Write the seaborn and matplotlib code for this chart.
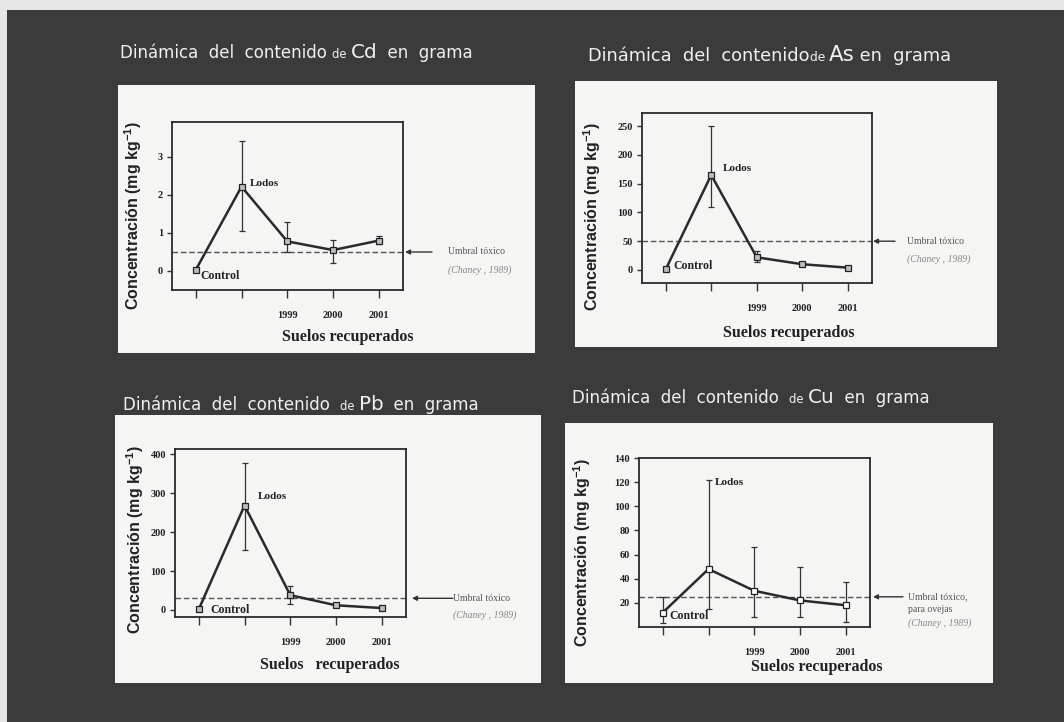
import matplotlib
matplotlib.use("Agg")
import matplotlib.pyplot as plt
import matplotlib.transforms as mtransforms
from matplotlib.patches import Rectangle
import seaborn as sns
import pandas as pd

# ---- data -------------------------------------------------------------
categories = ["Control", "Lodos", "1999", "2000", "2001"]
tick_labels = ["", "", "1999", "2000", "2001"]

cd_mean = [0.03, 2.22, 0.78, 0.55, 0.80]
cd_low = [0.03, 1.05, 0.50, 0.22, 0.70]
cd_high = [0.03, 3.42, 1.28, 0.82, 0.92]

as_mean = [1, 165, 22, 10, 4]
as_low = [1, 110, 14, 8, 3]
as_high = [1, 250, 33, 12, 5]

pb_mean = [2, 268, 38, 12, 5]
pb_low = [2, 153, 15, 8, 4]
pb_high = [2, 378, 62, 18, 6]

cu_mean = [12, 48, 30, 22, 18]
cu_low = [3, 15, 8, 8, 4]
cu_high = [25, 122, 66, 50, 37]

thresholds = {"Cd": 0.5, "As": 50, "Pb": 30, "Cu": 25}
threshold_text = {
    "Cd": ["Umbral tóxico", "(Chaney , 1989)"],
    "As": ["Umbral tóxico", "(Chaney , 1989)"],
    "Pb": ["Umbral tóxico", "(Chaney , 1989)"],
    "Cu": ["Umbral tóxico,", "para ovejas", "(Chaney , 1989)"],
}

# ---- figure -----------------------------------------------------------
sns.set_theme(style="white")
plt.rcParams["font.family"] = ["DejaVu Sans"]
plt.rcParams["mathtext.fontset"] = "custom"
plt.rcParams["mathtext.rm"] = "Liberation Sans:bold"
plt.rcParams["mathtext.bf"] = "Liberation Sans:bold"
plt.rcParams["mathtext.default"] = "bf"

W, H = 1064, 722
fig = plt.figure(figsize=(W / 100, H / 100), dpi=100)
fig.patch.set_facecolor("#e6e6e6")
renderer = fig.canvas.get_renderer()


def box(l, t, r, b):
    return [l / W, 1 - b / H, (r - l) / W, (b - t) / H]


fig.add_artist(Rectangle((7 / W, 0), 1 - 7 / W, 1 - 10 / H,
                         transform=fig.transFigure, facecolor="#3b3b3b",
                         edgecolor="none", zorder=0))

panels = [
    dict(el="Cd", mean=cd_mean, low=cd_low, high=cd_high, mfc="#bdbdbd",
         white=(118, 85, 535, 353), ax=(172, 122, 403, 290),
         ylim=(-0.5, 3.92), yticks=[0, 1, 2, 3],
         title_xy=(120, 53), tsize=12, gap=" ", tail="  en  grama",
         ylab=(-0.17, 0.44), xlab=(0.76, -0.28), xlab_text="Suelos recuperados",
         lodos=(1.19, 2.3), control=(0.11, -0.13),
         arrow=(432, 405), note_x=448, note_dy=18),
    dict(el="As", mean=as_mean, low=as_low, high=as_high, mfc="#bdbdbd",
         white=(575, 81, 997, 347), ax=(642, 113, 872, 283),
         ylim=(-22.6, 272.6), yticks=[0, 50, 100, 150, 200, 250],
         title_xy=(588, 56), tsize=12.8, gap="", tail=" en  grama",
         ylab=(-0.217, 0.39), xlab=(0.64, -0.294), xlab_text="Suelos recuperados",
         lodos=(1.26, 177), control=(0.17, 7),
         arrow=(895, 873), note_x=907, note_dy=18),
    dict(el="Pb", mean=pb_mean, low=pb_low, high=pb_high, mfc="#bdbdbd",
         white=(115, 415, 541, 683), ax=(175, 449, 406, 617),
         ylim=(-18, 413), yticks=[0, 100, 200, 300, 400],
         title_xy=(123, 405), tsize=12, gap="  ", tail="  en  grama",
         ylab=(-0.173, 0.46), xlab=(0.67, -0.286), xlab_text="Suelos   recuperados",
         lodos=(1.28, 290), control=(0.26, 0),
         arrow=(453, 412), note_x=453, note_dy=17),
    dict(el="Cu", mean=cu_mean, low=cu_low, high=cu_high, mfc="white",
         white=(565, 423, 993, 683), ax=(639, 458, 870, 627),
         ylim=(0, 140), yticks=[20, 40, 60, 80, 100, 120, 140],
         title_xy=(572, 398), tsize=12, gap="  ", tail="  en  grama",
         ylab=(-0.247, 0.44), xlab=(0.77, -0.237), xlab_text="Suelos recuperados",
         lodos=(1.13, 120), control=(0.15, 9),
         arrow=(903, 873), note_x=908, note_dy=13),
]

serif = ["Liberation Serif", "DejaVu Serif"]
sans = ["Liberation Sans", "DejaVu Sans"]
title_font = ["DejaVu Sans"]


def title_pieces(x, y, pieces):
    """Write consecutive text pieces of different sizes on one baseline."""
    cur = x / W
    for txt, size in pieces:
        t = fig.text(cur, 1 - y / H, txt, color="#f0f0f0", fontsize=size,
                     family=title_font, va="baseline", ha="left", zorder=3)
        ext = t.get_window_extent(renderer=renderer)
        cur += ext.width / W


for p in panels:
    # light card behind each chart
    l, b, w, h = box(*p["white"])
    fig.add_artist(Rectangle((l, b), w, h, transform=fig.transFigure,
                             facecolor="#f5f5f3", edgecolor="none", zorder=1))

    # heading above the card
    tx, ty = p["title_xy"]
    ts = p["tsize"]
    title_pieces(tx, ty + 5, [("Dinámica  del  contenido" + p["gap"], ts),
                              ("de ", ts * 0.7), (p["el"], ts * 1.2), (p["tail"], ts)])

    ax = fig.add_axes(box(*p["ax"]))
    ax.set_zorder(2)
    ax.set_facecolor("#f5f5f3")
    pos = list(range(len(categories)))
    df = pd.DataFrame({"pos": pos, "valor": p["mean"]})

    err_lo = [m - lo for m, lo in zip(p["mean"], p["low"])]
    err_hi = [hi - m for m, hi in zip(p["mean"], p["high"])]
    ax.errorbar(pos, p["mean"], yerr=[err_lo, err_hi], fmt="none",
                ecolor="#333333", elinewidth=0.9, capsize=2.5, capthick=0.9, zorder=2)
    sns.lineplot(data=df, x="pos", y="valor", ax=ax, color="#2a2a2a", linewidth=1.8,
                 marker="s", markersize=4.5, markerfacecolor=p["mfc"],
                 markeredgecolor="#222222", markeredgewidth=0.9, zorder=3)

    thr = thresholds[p["el"]]
    ax.axhline(thr, color="#555555", linestyle=(0, (4, 2)), linewidth=1.0, zorder=1)

    ax.set_xlim(-0.52, 4.53)
    ax.set_ylim(*p["ylim"])
    ax.set_xticks(pos)
    ax.set_xticklabels(tick_labels)
    ax.set_yticks(p["yticks"])
    ax.tick_params(axis="x", direction="out", length=6, width=1, color="#333333",
                   pad=9, labelsize=7.5, bottom=True)
    ax.tick_params(axis="y", direction="out", length=3.5, width=1, color="#333333",
                   pad=3, labelsize=7.5, left=True)
    for lab in ax.get_xticklabels() + ax.get_yticklabels():
        lab.set_family(serif)
        lab.set_weight("bold")
        lab.set_color("#222222")
    for s in ax.spines.values():
        s.set_color("#2a2a2a")
        s.set_linewidth(1.3)

    ax.set_ylabel(r"Concentración (mg kg$^{-1}$)", family=sans, fontsize=11.5,
                  fontweight="bold", color="#222222")
    ax.yaxis.label.set_va("center")
    ax.yaxis.set_label_coords(*p["ylab"])
    ax.set_xlabel(p["xlab_text"], family=serif, fontsize=11.5, fontweight="bold",
                  color="#222222")
    ax.xaxis.label.set_va("center")
    ax.xaxis.set_label_coords(*p["xlab"])

    ax.text(*p["lodos"], "Lodos", family=serif, fontsize=8, fontweight="bold",
            color="#222222", va="center", ha="left")
    ax.text(*p["control"], "Control", family=serif, fontsize=8.5, fontweight="bold",
            color="#222222", va="center", ha="left")

    # arrow pointing at the toxicity threshold
    blend = mtransforms.blended_transform_factory(fig.transFigure, ax.transData)
    a0, a1 = p["arrow"]
    ax.annotate("", xy=(a1 / W, thr), xycoords=blend,
                xytext=(a0 / W, thr), textcoords=blend,
                arrowprops=dict(arrowstyle="-|>", color="#333333", lw=1.0,
                                mutation_scale=7, shrinkA=0, shrinkB=0),
                annotation_clip=False)
    for i, line in enumerate(threshold_text[p["el"]]):
        italic = line.startswith("(")
        offset = mtransforms.ScaledTranslation(0, -i * p["note_dy"] / 100,
                                               fig.dpi_scale_trans)
        ax.text(p["note_x"] / W, thr, line, transform=blend + offset,
                family=serif, fontsize=7, color="#888888" if italic else "#555555",
                style="italic" if italic else "normal", va="center", ha="left",
                clip_on=False)

fig.savefig("out.png", dpi=100, facecolor=fig.get_facecolor())
